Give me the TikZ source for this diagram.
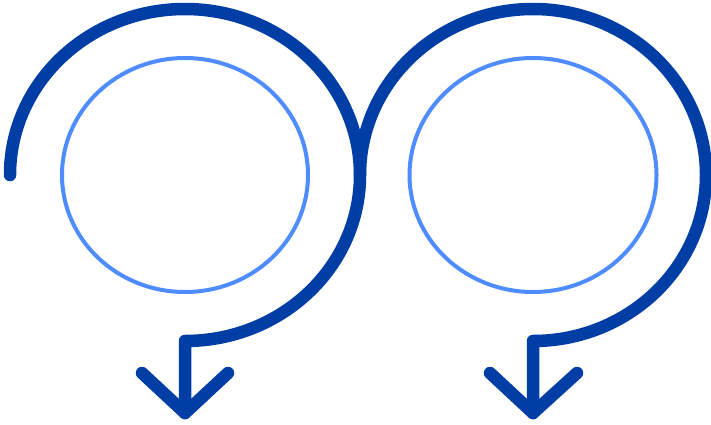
\documentclass[tikz,border=0pt]{standalone}
\usepackage{xcolor}
\usepackage{tikz}
\definecolor{loopblue}{HTML}{003DA5}
\definecolor{ringblue}{HTML}{4F8CFF}

\begin{document}
\begin{tikzpicture}[
  x=1pt, y=1pt,
  loop/.style={draw=loopblue, line width=12.5pt, line cap=round, line join=round},
  ring/.style={draw=ringblue, line width=4pt},
]
\useasboundingbox (0,0) rectangle (711,424);
% centres of the two loops
\coordinate (cL) at (185,249);
\coordinate (cR) at (533,249);
% light rings
\draw[ring] (cL) ellipse [x radius=123, y radius=117];
\draw[ring] (cR) ellipse [x radius=123.5, y radius=117];
% left loop with arrow
\coordinate (sL) at (10,249);
\coordinate (tipL) at (185,11);
\draw[loop] (sL) arc[start angle=180, end angle=-90, x radius=175, y radius=166] -- (tipL);
\draw[loop] (142,51) -- (tipL) -- (228,51);
% right loop with arrow
\coordinate (sR) at (360,249);
\coordinate (tipR) at (533,11);
\draw[loop] (sR) arc[start angle=180, end angle=-90, x radius=173, y radius=166] -- (tipR);
\draw[loop] (490,51) -- (tipR) -- (577,51);
\end{tikzpicture}
\end{document}
